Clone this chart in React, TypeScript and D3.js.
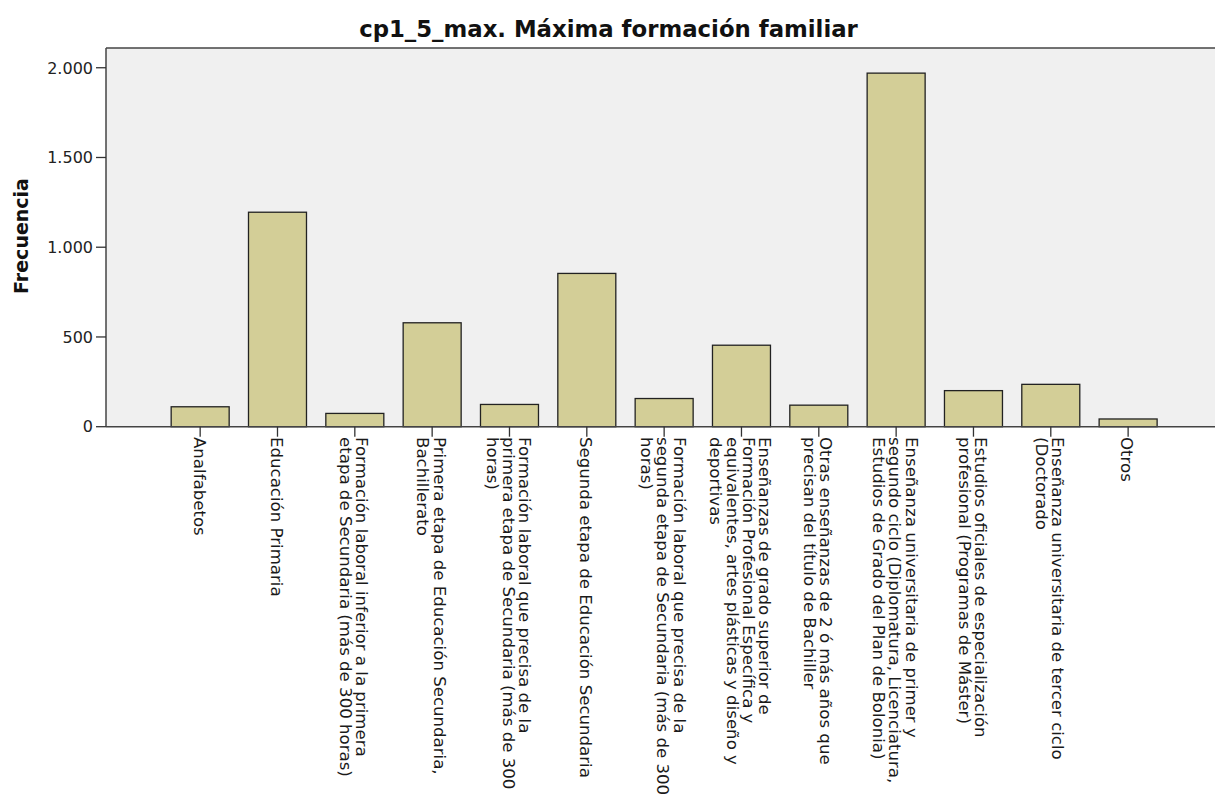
import React from "react";
import * as d3 from "d3";

const TITLE = "cp1_5_max. Máxima formación familiar";
const Y_LABEL = "Frecuencia";

const categories: string[] = [
  "Analfabetos",
  "Educación Primaria",
  "Formación laboral inferior a la primera etapa de Secundaria (más de 300 horas)",
  "Primera etapa de Educación Secundaria, Bachillerato",
  "Formación laboral que precisa de la primera etapa de Secundaria (más de 300 horas)",
  "Segunda etapa de Educación Secundaria",
  "Formación laboral que precisa de la segunda etapa de Secundaria (más de 300 horas)",
  "Enseñanzas de grado superior de Formación Profesional Específica y equivalentes, artes plásticas y diseño y deportivas",
  "Otras enseñanzas de 2 ó más años que precisan del título de Bachiller",
  "Enseñanza universitaria de primer y segundo ciclo (Diplomatura, Licenciatura, Estudios de Grado del Plan de Bolonia)",
  "Estudios oficiales de especialización profesional (Programas de Máster)",
  "Enseñanza universitaria de tercer ciclo (Doctorado",
  "Otros",
];

const categoryLines: string[][] = [
  ["Analfabetos"],
  ["Educación Primaria"],
  ["Formación laboral inferior a la primera", "etapa de Secundaria (más de 300 horas)"],
  ["Primera etapa de Educación Secundaria,", "Bachillerato"],
  ["Formación laboral que precisa de la", "primera etapa de Secundaria (más de 300", "horas)"],
  ["Segunda etapa de Educación Secundaria"],
  ["Formación laboral que precisa de la", "segunda etapa de Secundaria (más de 300", "horas)"],
  ["Enseñanzas de grado superior de", "Formación Profesional Específica y", "equivalentes, artes plásticas y diseño y", "deportivas"],
  ["Otras enseñanzas de 2 ó más años que", "precisan del título de Bachiller"],
  ["Enseñanza universitaria de primer y", "segundo ciclo (Diplomatura, Licenciatura,", "Estudios de Grado del Plan de Bolonia)"],
  ["Estudios oficiales de especialización", "profesional (Programas de Máster)"],
  ["Enseñanza universitaria de tercer ciclo", "(Doctorado"],
  ["Otros"],
];

const frequencies: number[] = [111, 1195, 74, 579, 124, 854, 157, 454, 120, 1970, 201, 236, 43];

const yTicks: number[] = [0, 500, 1000, 1500, 2000];
const yTickLabels: string[] = ["0", "500", "1.000", "1.500", "2.000"];

const W = 1215;
const H = 809;
const plotLeft = 106;
const plotTop = 48;
const plotBottom = 426.7;
const plotRight = 1216;

const FONT = "'DejaVu Sans', Verdana, sans-serif";

export default function App() {
  const x = d3
    .scaleBand<string>()
    .domain(categories)
    .range([161.5, 161.5 + 13 * 77.33])
    .paddingInner(0.25)
    .paddingOuter(0.125);

  const y = d3.scaleLinear().domain([0, 2110]).range([plotBottom, plotTop]);

  const lineStep = 16.3;
  const labelTop = 437;

  return (
    <svg
      width={W}
      height={H}
      style={{ position: "absolute", left: 0, top: 0, background: "#ffffff" }}
      fontFamily={FONT}
    >
      <rect x={0} y={0} width={W} height={H} fill="#ffffff" />
      <rect
        x={plotLeft}
        y={plotTop}
        width={plotRight - plotLeft}
        height={plotBottom - plotTop}
        fill="#f0f0f0"
      />
      <text
        x={608.5}
        y={37}
        textAnchor="middle"
        fontSize={22.8}
        fontWeight="bold"
        fill="#111"
      >
        {TITLE}
      </text>
      <text
        transform={`translate(28, 236) rotate(-90)`}
        textAnchor="middle"
        fontSize={19}
        fontWeight="bold"
        fill="#111"
      >
        {Y_LABEL}
      </text>
      {categories.map((c, i) => (
        <rect
          key={c}
          x={x(c)!}
          y={y(frequencies[i])}
          width={x.bandwidth()}
          height={plotBottom - y(frequencies[i])}
          fill="#d3ce97"
          stroke="#222"
          strokeWidth={1.3}
        />
      ))}
      <line x1={plotLeft} x2={plotRight} y1={plotTop} y2={plotTop} stroke="#444" strokeWidth={1.5} />
      <line x1={plotLeft} x2={plotLeft} y1={plotTop} y2={plotBottom} stroke="#444" strokeWidth={1.5} />
      <line x1={plotLeft} x2={plotRight} y1={plotBottom} y2={plotBottom} stroke="#444" strokeWidth={1.5} />
      {yTicks.map((t, i) => (
        <g key={t}>
          <line x1={96} x2={plotLeft} y1={y(t)} y2={y(t)} stroke="#333" strokeWidth={1.3} />
          <text
            x={93}
            y={y(t)}
            dy="0.36em"
            textAnchor="end"
            fontSize={16}
            fill="#222"
          >
            {yTickLabels[i]}
          </text>
        </g>
      ))}
      {categories.map((c, i) => {
        const cx = x(c)! + x.bandwidth() / 2;
        const lines = categoryLines[i];
        const n = lines.length;
        const blockHalf = (n * lineStep) / 2;
        return (
          <g key={"xt" + i}>
            <line x1={cx} x2={cx} y1={plotBottom} y2={plotBottom + 10} stroke="#333" strokeWidth={1.3} />
            {lines.map((ln, j) => {
              const lineRight = cx - 2 + blockHalf - j * lineStep;
              const baseX = lineRight - 12.8;
              return (
                <text
                  key={j}
                  transform={`translate(${baseX}, ${labelTop}) rotate(90)`}
                  fontSize={16.6}
                  fill="#1a1a1a"
                >
                  {ln}
                </text>
              );
            })}
          </g>
        );
      })}
    </svg>
  );
}
